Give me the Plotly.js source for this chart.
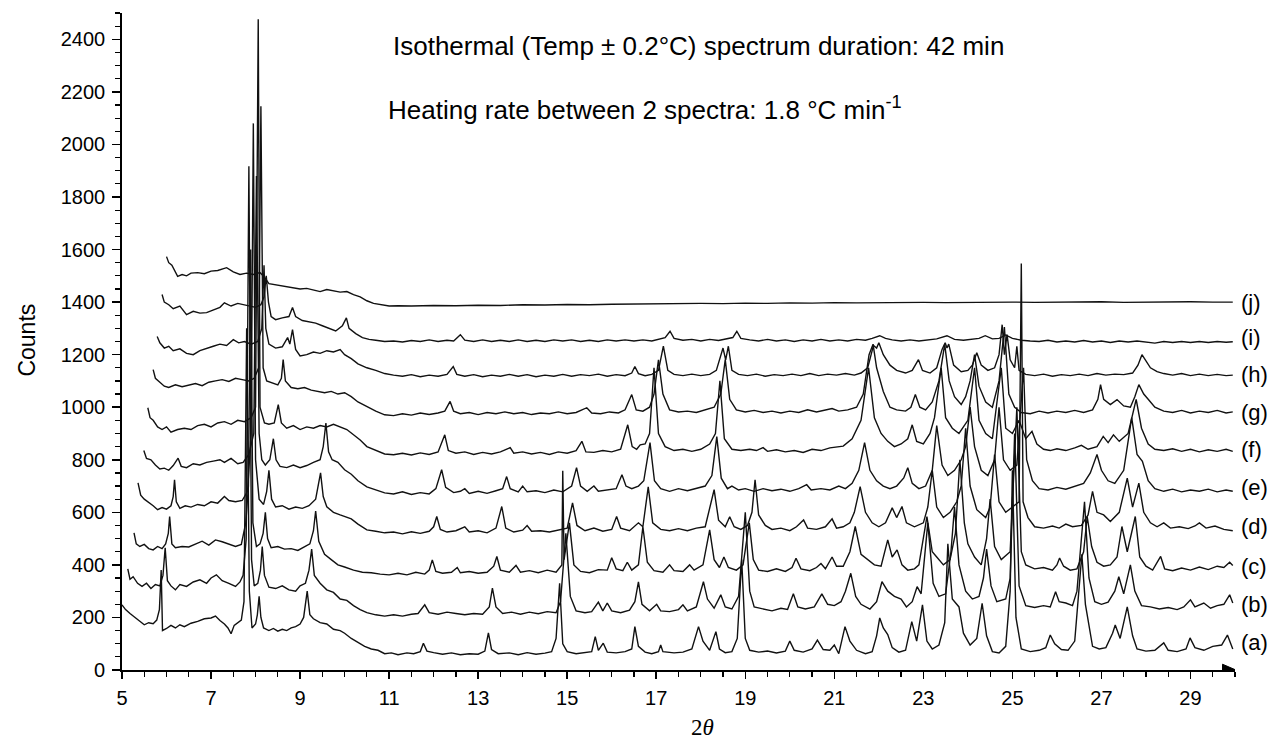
<!DOCTYPE html>
<html>
<head>
<meta charset="utf-8">
<script src="https://cdn.plot.ly/plotly-3.0.1.min.js"></script>
<style>html,body{margin:0;padding:0;background:#fff;}#chart{width:1275px;height:740px;}</style>
</head>
<body>
<div id="chart"></div>
<script>
// Trace labels (lowest to highest)
const labels = ["(a)","(b)","(c)","(d)","(e)","(f)","(g)","(h)","(i)","(j)"];
// Label heights (counts) at right end
const labelY = [103,248,392,545,693,838,979,1124,1264,1398];

// Spectra: [2theta, counts]
const specA = [[5.00,248],[5.08,230],[5.18,215],[5.3,200],[5.42,185],[5.5,172],[5.6,180],[5.7,176],[5.78,190],[5.84,230],[5.88,380],[5.91,150],[6.0,158],[6.1,170],[6.2,160],[6.3,172],[6.4,165],[6.55,178],[6.7,185],[6.85,195],[7.0,198],[7.1,205],[7.2,188],[7.3,175],[7.38,160],[7.45,138],[7.52,170],[7.6,180],[7.68,190],[7.74,260],[7.80,1300],[7.86,300],[7.92,160],[8.0,175],[8.04,210],[8.08,280],[8.12,200],[8.18,160],[8.3,150],[8.4,158],[8.5,148],[8.6,155],[8.7,150],[8.8,160],[8.9,165],[9.0,175],[9.08,200],[9.16,300],[9.22,210],[9.3,195],[9.45,180],[9.6,175],[9.75,155],[9.9,150],[10.0,140],[10.15,120],[10.3,105],[10.45,90],[10.6,80],[10.75,75],[10.9,62],[11.05,65],[11.2,58],[11.4,65],[11.55,62],[11.7,70],[11.77,102],[11.85,72],[12.0,66],[12.2,60],[12.4,65],[12.6,58],[12.8,62],[13.0,60],[13.15,72],[13.23,141],[13.3,78],[13.45,62],[13.7,65],[13.9,58],[14.1,66],[14.3,60],[14.5,64],[14.65,70],[14.75,120],[14.83,330],[14.9,100],[15.0,70],[15.2,62],[15.4,68],[15.55,70],[15.63,127],[15.7,75],[15.81,102],[15.9,68],[16.1,65],[16.3,70],[16.45,80],[16.52,165],[16.6,90],[16.75,68],[16.9,62],[17.05,70],[17.1,95],[17.15,70],[17.4,65],[17.6,68],[17.8,80],[17.95,165],[18.05,110],[18.2,75],[18.34,146],[18.42,80],[18.55,66],[18.7,70],[18.82,120],[18.92,420],[19.0,120],[19.1,75],[19.3,68],[19.5,72],[19.7,65],[19.9,72],[20.0,110],[20.1,75],[20.3,68],[20.5,80],[20.62,114],[20.75,78],[20.9,75],[21.0,95],[21.1,62],[21.24,165],[21.35,110],[21.5,75],[21.7,62],[21.85,70],[21.95,130],[22.02,198],[22.1,160],[22.2,135],[22.3,85],[22.45,68],[22.6,75],[22.74,184],[22.85,110],[22.98,248],[23.08,110],[23.2,80],[23.35,95],[23.48,180],[23.55,480],[23.65,270],[23.8,240],[23.9,140],[24.05,95],[24.2,120],[24.32,254],[24.42,130],[24.55,70],[24.7,65],[24.85,90],[24.95,300],[25.0,760],[25.08,200],[25.2,80],[25.4,70],[25.6,75],[25.75,85],[25.85,133],[25.95,100],[26.1,78],[26.25,75],[26.4,110],[26.5,300],[26.56,440],[26.64,250],[26.8,90],[26.95,80],[27.1,85],[27.25,140],[27.31,171],[27.42,120],[27.58,240],[27.7,130],[27.8,80],[28.0,72],[28.2,75],[28.4,103],[28.5,75],[28.7,70],[28.9,80],[28.99,122],[29.1,85],[29.3,75],[29.5,90],[29.7,95],[29.83,133],[29.95,80]];

const specB = [[5.13,385],[5.18,345],[5.25,355],[5.35,330],[5.45,318],[5.55,330],[5.65,310],[5.75,325],[5.85,320],[5.92,360],[5.97,465],[6.02,340],[6.1,320],[6.2,305],[6.3,325],[6.45,318],[6.6,335],[6.75,343],[6.9,330],[7.0,350],[7.12,362],[7.25,340],[7.4,330],[7.55,318],[7.65,335],[7.72,360],[7.79,500],[7.85,1917],[7.91,420],[7.97,320],[8.05,330],[8.11,380],[8.15,470],[8.2,360],[8.3,315],[8.45,310],[8.6,320],[8.75,305],[8.9,300],[9.0,320],[9.12,330],[9.2,380],[9.26,460],[9.32,360],[9.45,330],[9.6,305],[9.75,295],[9.9,270],[10.05,265],[10.2,245],[10.35,230],[10.5,218],[10.7,210],[10.9,205],[11.1,210],[11.3,205],[11.5,212],[11.65,215],[11.8,248],[11.9,218],[12.1,212],[12.3,220],[12.5,215],[12.7,210],[12.9,215],[13.1,212],[13.25,240],[13.32,312],[13.4,240],[13.55,215],[13.75,220],[13.95,212],[14.15,220],[14.35,214],[14.55,222],[14.75,218],[14.85,260],[14.97,520],[15.07,280],[15.2,225],[15.4,218],[15.55,222],[15.7,258],[15.8,225],[15.9,255],[16.0,225],[16.2,218],[16.4,228],[16.52,260],[16.6,335],[16.68,250],[16.85,225],[17.01,250],[17.1,225],[17.3,222],[17.5,230],[17.6,248],[17.7,225],[17.9,240],[18.06,336],[18.15,270],[18.3,235],[18.45,286],[18.55,240],[18.7,232],[18.85,280],[19.0,600],[19.1,300],[19.2,240],[19.4,232],[19.6,225],[19.8,235],[19.95,230],[20.08,290],[20.18,240],[20.35,232],[20.55,240],[20.72,290],[20.85,250],[21.0,245],[21.15,260],[21.25,300],[21.37,368],[21.48,280],[21.6,250],[21.8,232],[21.95,260],[22.07,336],[22.2,300],[22.35,280],[22.5,270],[22.62,240],[22.75,260],[22.86,317],[22.95,290],[23.1,560],[23.22,330],[23.35,280],[23.5,290],[23.62,450],[23.7,620],[23.8,400],[23.95,300],[24.1,270],[24.25,280],[24.35,350],[24.42,460],[24.52,320],[24.65,260],[24.85,270],[24.95,350],[25.05,900],[25.15,320],[25.3,245],[25.5,238],[25.7,245],[25.85,240],[25.97,298],[26.05,260],[26.2,255],[26.35,245],[26.45,300],[26.55,520],[26.62,640],[26.72,350],[26.85,260],[27.0,250],[27.15,258],[27.3,300],[27.39,355],[27.5,290],[27.65,400],[27.75,300],[27.9,245],[28.1,240],[28.3,232],[28.5,238],[28.7,230],[28.85,240],[29.0,267],[29.1,240],[29.3,255],[29.45,235],[29.6,245],[29.75,250],[29.88,286],[29.95,255]];

const specC = [[5.27,522],[5.32,480],[5.4,470],[5.5,478],[5.6,462],[5.7,457],[5.8,470],[5.9,462],[5.98,480],[6.04,520],[6.07,584],[6.12,480],[6.2,465],[6.35,470],[6.5,468],[6.65,480],[6.8,490],[6.95,475],[7.1,495],[7.25,488],[7.4,480],[7.55,470],[7.68,478],[7.78,560],[7.84,700],[7.89,1600],[7.94,560],[8.02,470],[8.1,480],[8.17,520],[8.22,600],[8.27,500],[8.35,465],[8.5,470],[8.65,460],[8.8,462],[8.95,455],[9.1,470],[9.22,480],[9.3,530],[9.35,605],[9.42,490],[9.55,440],[9.7,420],[9.85,400],[10.0,392],[10.2,380],[10.4,372],[10.6,370],[10.8,365],[11.0,362],[11.2,368],[11.4,362],[11.6,372],[11.8,365],[11.9,380],[11.97,419],[12.05,375],[12.2,368],[12.4,372],[12.53,390],[12.6,370],[12.8,375],[13.0,368],[13.2,372],[13.35,395],[13.42,432],[13.5,380],[13.7,372],[13.85,398],[13.95,372],[14.15,378],[14.35,370],[14.55,380],[14.75,372],[14.88,400],[14.9,758],[14.93,420],[15.05,560],[15.15,400],[15.3,375],[15.5,370],[15.7,382],[15.9,380],[16.0,427],[16.1,385],[16.25,378],[16.35,410],[16.45,380],[16.6,400],[16.7,545],[16.8,410],[16.95,378],[17.15,372],[17.3,400],[17.4,378],[17.6,375],[17.75,400],[17.85,380],[18.05,400],[18.2,533],[18.3,420],[18.42,390],[18.52,430],[18.62,390],[18.8,380],[18.95,400],[19.09,560],[19.18,420],[19.3,380],[19.5,375],[19.7,385],[19.9,375],[20.05,390],[20.14,425],[20.25,385],[20.45,378],[20.6,390],[20.7,405],[20.8,385],[20.95,430],[21.05,395],[21.2,395],[21.35,450],[21.47,546],[21.6,440],[21.75,420],[21.9,400],[22.05,395],[22.2,495],[22.3,430],[22.41,457],[22.52,400],[22.65,380],[22.8,385],[22.9,400],[23.08,584],[23.2,450],[23.3,430],[23.45,400],[23.6,420],[23.72,520],[23.82,800],[23.92,560],[24.0,480],[24.15,430],[24.3,400],[24.42,500],[24.5,650],[24.6,470],[24.75,420],[24.95,450],[25.1,1000],[25.2,450],[25.3,400],[25.5,385],[25.7,390],[25.9,380],[26.0,400],[26.06,426],[26.15,395],[26.3,380],[26.45,385],[26.6,450],[26.68,584],[26.78,470],[26.9,410],[27.05,395],[27.2,400],[27.35,430],[27.46,546],[27.58,450],[27.76,584],[27.86,430],[28.0,395],[28.15,380],[28.33,432],[28.42,385],[28.6,378],[28.8,388],[29.0,380],[29.2,392],[29.4,382],[29.6,395],[29.75,390],[29.88,410],[29.95,398]];

const specD = [[5.36,712],[5.42,665],[5.5,650],[5.6,638],[5.7,625],[5.8,610],[5.9,618],[6.0,612],[6.1,625],[6.15,660],[6.18,724],[6.22,640],[6.3,615],[6.42,625],[6.55,620],[6.7,630],[6.85,625],[7.0,640],[7.15,635],[7.3,660],[7.4,645],[7.55,640],[7.7,645],[7.82,680],[7.9,900],[7.95,2080],[8.0,800],[8.08,650],[8.18,630],[8.25,680],[8.3,760],[8.36,650],[8.45,620],[8.6,625],[8.75,612],[8.9,620],[9.05,615],[9.2,625],[9.35,650],[9.46,750],[9.52,660],[9.6,621],[9.75,600],[9.9,590],[10.0,584],[10.15,575],[10.3,555],[10.5,533],[10.7,528],[10.9,522],[11.1,525],[11.3,518],[11.5,526],[11.7,520],[11.9,528],[12.0,545],[12.07,584],[12.15,535],[12.3,525],[12.5,530],[12.7,545],[12.8,525],[13.0,530],[13.2,522],[13.4,540],[13.53,622],[13.62,540],[13.8,525],[14.0,532],[14.1,550],[14.2,528],[14.4,530],[14.6,525],[14.8,532],[15.0,540],[15.12,636],[15.22,550],[15.4,530],[15.6,540],[15.8,528],[16.0,535],[16.11,584],[16.2,540],[16.4,530],[16.6,560],[16.7,545],[16.82,697],[16.92,560],[17.1,535],[17.3,530],[17.5,538],[17.7,530],[17.9,540],[18.1,545],[18.3,686],[18.4,570],[18.55,545],[18.65,583],[18.75,545],[18.9,535],[19.05,550],[19.15,600],[19.22,724],[19.3,590],[19.45,550],[19.6,535],[19.8,540],[20.0,530],[20.15,545],[20.31,571],[20.4,540],[20.6,535],[20.8,545],[20.95,575],[21.05,540],[21.2,545],[21.35,560],[21.45,600],[21.58,698],[21.7,600],[21.85,560],[22.0,545],[22.15,560],[22.3,617],[22.4,580],[22.52,622],[22.62,560],[22.8,545],[23.0,560],[23.1,620],[23.2,760],[23.3,620],[23.45,580],[23.6,600],[23.75,640],[23.85,700],[23.95,920],[24.05,700],[24.2,610],[24.4,580],[24.5,620],[24.6,820],[24.7,640],[24.85,600],[25.0,620],[25.15,640],[25.2,1547],[25.24,640],[25.35,580],[25.5,545],[25.7,540],[25.9,548],[26.05,540],[26.2,555],[26.35,545],[26.55,550],[26.7,590],[26.8,680],[26.9,600],[27.05,590],[27.2,565],[27.4,600],[27.58,730],[27.7,620],[27.84,711],[27.95,600],[28.1,560],[28.25,545],[28.4,560],[28.55,540],[28.75,545],[28.95,538],[29.1,548],[29.2,560],[29.35,540],[29.55,548],[29.75,535],[29.95,530]];

const specE = [[5.49,835],[5.55,805],[5.65,800],[5.75,780],[5.85,765],[5.95,768],[6.05,760],[6.15,778],[6.26,806],[6.33,775],[6.45,770],[6.6,785],[6.75,780],[6.9,790],[7.05,795],[7.2,800],[7.3,790],[7.45,805],[7.6,785],[7.72,790],[7.85,820],[7.96,900],[8.02,1880],[8.08,900],[8.14,800],[8.22,780],[8.32,800],[8.4,880],[8.46,800],[8.55,775],[8.7,770],[8.85,780],[9.0,770],[9.15,778],[9.3,790],[9.45,800],[9.52,850],[9.58,940],[9.64,830],[9.72,800],[9.85,790],[10.0,762],[10.15,745],[10.3,720],[10.5,697],[10.7,685],[10.9,674],[11.1,670],[11.3,678],[11.5,668],[11.7,675],[11.9,670],[12.05,690],[12.18,762],[12.27,695],[12.45,675],[12.6,680],[12.7,690],[12.8,672],[13.0,680],[13.2,672],[13.4,682],[13.55,690],[13.64,736],[13.72,690],[13.9,678],[14.0,700],[14.1,678],[14.3,682],[14.5,675],[14.7,685],[14.9,678],[15.1,700],[15.21,770],[15.3,700],[15.45,680],[15.6,700],[15.7,680],[15.9,685],[16.1,690],[16.23,743],[16.32,700],[16.45,690],[16.6,700],[16.72,720],[16.86,865],[16.96,720],[17.1,690],[17.3,680],[17.5,690],[17.7,682],[17.9,690],[18.1,700],[18.25,740],[18.36,888],[18.46,730],[18.6,690],[18.7,700],[18.85,685],[19.0,690],[19.2,680],[19.4,690],[19.6,682],[19.8,688],[20.0,680],[20.2,690],[20.38,705],[20.48,685],[20.7,690],[20.9,685],[21.1,700],[21.25,690],[21.4,710],[21.55,760],[21.68,865],[21.8,760],[21.95,720],[22.1,700],[22.25,690],[22.4,700],[22.56,731],[22.65,770],[22.75,710],[22.9,690],[23.05,700],[23.2,760],[23.3,930],[23.42,780],[23.55,740],[23.7,760],[23.85,800],[23.95,850],[24.05,1000],[24.15,850],[24.3,760],[24.45,740],[24.6,800],[24.7,1000],[24.8,800],[24.95,760],[25.1,780],[25.25,1150],[25.32,800],[25.45,720],[25.6,690],[25.8,685],[26.0,695],[26.2,688],[26.4,700],[26.6,710],[26.75,750],[26.9,820],[27.0,760],[27.15,720],[27.3,710],[27.5,760],[27.68,960],[27.8,820],[27.92,794],[28.05,720],[28.2,690],[28.4,680],[28.6,688],[28.8,678],[29.0,685],[29.2,680],[29.4,688],[29.6,678],[29.8,685],[29.95,680]];

const specF = [[5.58,998],[5.63,960],[5.7,950],[5.8,925],[5.9,915],[6.0,925],[6.1,905],[6.25,915],[6.4,920],[6.55,915],[6.7,930],[6.85,935],[7.0,925],[7.15,940],[7.3,945],[7.45,935],[7.6,950],[7.75,945],[7.9,960],[8.0,1000],[8.06,2476],[8.1,1000],[8.2,940],[8.3,935],[8.42,940],[8.51,1010],[8.58,940],[8.7,920],[8.85,930],[9.0,915],[9.15,925],[9.3,920],[9.45,930],[9.6,925],[9.75,935],[9.9,926],[10.05,915],[10.2,895],[10.35,875],[10.5,850],[10.7,835],[10.9,822],[11.1,819],[11.3,825],[11.5,818],[11.7,826],[11.9,820],[12.1,830],[12.25,895],[12.33,835],[12.5,825],[12.7,830],[12.9,820],[13.1,828],[13.3,822],[13.5,830],[13.72,846],[13.8,825],[14.0,830],[14.2,822],[14.4,828],[14.6,820],[14.8,830],[15.0,825],[15.2,835],[15.33,870],[15.42,830],[15.6,828],[15.8,835],[16.0,830],[16.2,840],[16.36,933],[16.46,850],[16.56,840],[16.64,857],[16.75,860],[16.85,900],[16.95,1150],[17.05,900],[17.2,850],[17.4,835],[17.6,840],[17.8,832],[18.0,840],[18.2,860],[18.33,900],[18.43,1100],[18.53,880],[18.7,840],[18.9,835],[19.1,840],[19.25,835],[19.4,846],[19.5,832],[19.7,838],[19.9,830],[20.1,835],[20.3,828],[20.5,840],[20.7,835],[20.9,845],[21.1,850],[21.2,852],[21.4,880],[21.6,950],[21.77,1150],[21.9,960],[22.05,900],[22.2,870],[22.35,850],[22.5,860],[22.65,880],[22.75,933],[22.85,870],[23.0,860],[23.15,900],[23.25,960],[23.4,1150],[23.5,960],[23.65,920],[23.8,900],[24.0,950],[24.15,1150],[24.25,950],[24.4,900],[24.55,880],[24.75,1150],[24.85,920],[25.0,900],[25.15,950],[25.3,880],[25.44,908],[25.55,860],[25.7,840],[25.85,835],[26.0,842],[26.2,835],[26.4,845],[26.55,855],[26.7,840],[26.9,850],[27.04,889],[27.15,865],[27.27,895],[27.4,870],[27.6,900],[27.78,1030],[27.9,920],[28.05,860],[28.2,840],[28.4,835],[28.6,842],[28.8,832],[29.0,840],[29.2,830],[29.4,838],[29.6,832],[29.8,840],[29.95,832]];

const specG = [[5.7,1143],[5.75,1110],[5.85,1095],[5.95,1080],[6.05,1075],[6.2,1085],[6.35,1078],[6.5,1085],[6.65,1090],[6.8,1082],[6.95,1095],[7.1,1100],[7.25,1105],[7.4,1098],[7.55,1110],[7.7,1105],[7.85,1100],[7.97,1110],[8.07,1150],[8.12,2145],[8.17,1150],[8.25,1100],[8.35,1095],[8.5,1085],[8.58,1110],[8.62,1181],[8.67,1100],[8.8,1075],[8.95,1070],[9.1,1075],[9.25,1065],[9.4,1060],[9.55,1055],[9.7,1060],[9.85,1050],[10.0,1055],[10.15,1040],[10.3,1020],[10.5,1002],[10.7,985],[10.9,971],[11.1,968],[11.3,975],[11.5,970],[11.7,978],[11.9,972],[12.1,978],[12.25,985],[12.37,1022],[12.45,985],[12.6,975],[12.8,980],[13.0,972],[13.2,980],[13.4,975],[13.6,982],[13.8,975],[14.0,980],[14.2,972],[14.4,978],[14.6,975],[14.8,982],[15.0,975],[15.2,980],[15.44,998],[15.55,978],[15.75,975],[15.95,982],[16.15,978],[16.3,990],[16.45,1048],[16.55,990],[16.7,985],[16.85,1000],[16.95,1050],[17.05,1180],[17.15,1050],[17.3,990],[17.5,982],[17.7,985],[17.9,980],[18.1,990],[18.3,1000],[18.45,1050],[18.55,1181],[18.65,1030],[18.8,990],[19.0,982],[19.2,988],[19.4,980],[19.6,985],[19.8,978],[20.0,985],[20.2,980],[20.4,990],[20.6,982],[20.8,990],[20.95,995],[21.1,985],[21.3,990],[21.5,1000],[21.65,1050],[21.78,1200],[21.87,1240],[21.95,1150],[22.1,1060],[22.25,1000],[22.4,990],[22.6,985],[22.72,1000],[22.82,1048],[22.92,1000],[23.05,990],[23.2,1020],[23.35,1100],[23.48,1240],[23.58,1100],[23.7,1040],[23.85,1010],[23.95,1040],[24.05,1100],[24.15,1200],[24.25,1080],[24.4,1020],[24.55,1000],[24.7,1100],[24.82,1305],[24.92,1050],[25.05,1000],[25.2,980],[25.4,975],[25.6,985],[25.8,978],[26.0,985],[26.2,980],[26.4,988],[26.6,980],[26.8,990],[26.92,1030],[26.98,1086],[27.05,1030],[27.2,1010],[27.35,1029],[27.5,1005],[27.65,1000],[27.75,1040],[27.84,1086],[27.95,1050],[28.05,1030],[28.2,1000],[28.4,985],[28.6,980],[28.8,988],[29.0,978],[29.2,985],[29.4,980],[29.6,988],[29.8,978],[29.95,982]];

const specH = [[5.79,1269],[5.85,1245],[5.95,1225],[6.05,1232],[6.15,1215],[6.3,1222],[6.45,1205],[6.6,1200],[6.75,1215],[6.9,1225],[7.05,1232],[7.2,1240],[7.35,1235],[7.5,1257],[7.62,1245],[7.75,1250],[7.9,1240],[8.05,1250],[8.14,1300],[8.19,1540],[8.23,1300],[8.3,1240],[8.45,1225],[8.6,1230],[8.68,1250],[8.72,1265],[8.77,1240],[8.83,1295],[8.9,1220],[9.0,1195],[9.15,1200],[9.3,1210],[9.45,1205],[9.6,1215],[9.75,1210],[9.9,1219],[10.0,1200],[10.15,1185],[10.3,1165],[10.5,1150],[10.7,1140],[10.9,1128],[11.1,1122],[11.3,1118],[11.5,1124],[11.7,1116],[11.9,1122],[12.1,1118],[12.3,1125],[12.44,1155],[12.52,1125],[12.7,1118],[12.9,1124],[13.1,1116],[13.3,1122],[13.5,1118],[13.7,1125],[13.9,1118],[14.1,1124],[14.3,1116],[14.5,1122],[14.7,1118],[14.9,1125],[15.1,1118],[15.3,1124],[15.5,1120],[15.7,1126],[15.9,1118],[16.1,1124],[16.3,1120],[16.45,1130],[16.52,1155],[16.6,1128],[16.75,1120],[16.9,1125],[17.05,1140],[17.16,1232],[17.26,1140],[17.4,1125],[17.6,1120],[17.8,1126],[18.0,1120],[18.2,1125],[18.35,1140],[18.5,1225],[18.56,1180],[18.62,1232],[18.7,1140],[18.85,1125],[19.05,1120],[19.25,1126],[19.45,1118],[19.65,1124],[19.85,1120],[20.05,1126],[20.25,1120],[20.45,1128],[20.65,1120],[20.85,1126],[21.05,1122],[21.25,1128],[21.45,1122],[21.6,1130],[21.75,1150],[21.88,1235],[21.95,1225],[22.0,1245],[22.1,1200],[22.25,1160],[22.4,1140],[22.6,1130],[22.75,1140],[22.89,1181],[22.98,1140],[23.15,1130],[23.3,1150],[23.42,1220],[23.49,1245],[23.53,1225],[23.57,1240],[23.68,1160],[23.85,1135],[24.0,1140],[24.1,1160],[24.2,1207],[24.3,1160],[24.45,1140],[24.6,1150],[24.7,1200],[24.77,1314],[24.82,1200],[24.88,1276],[24.95,1180],[25.05,1150],[25.1,1232],[25.15,1140],[25.3,1125],[25.5,1120],[25.7,1126],[25.9,1118],[26.1,1124],[26.3,1120],[26.5,1126],[26.7,1120],[26.9,1128],[27.1,1122],[27.3,1126],[27.5,1124],[27.7,1130],[27.82,1160],[27.91,1200],[28.0,1175],[28.1,1150],[28.25,1135],[28.4,1128],[28.6,1122],[28.8,1128],[29.0,1120],[29.2,1126],[29.4,1120],[29.6,1125],[29.8,1120],[29.95,1122]];

const specI = [[5.9,1429],[5.95,1400],[6.05,1390],[6.15,1375],[6.3,1385],[6.45,1352],[6.6,1365],[6.75,1358],[6.9,1360],[7.05,1370],[7.2,1380],[7.3,1397],[7.45,1385],[7.6,1395],[7.75,1390],[7.9,1385],[8.0,1380],[8.12,1390],[8.19,1420],[8.24,1500],[8.29,1400],[8.35,1345],[8.45,1333],[8.6,1340],[8.75,1345],[8.83,1379],[8.9,1345],[9.05,1330],[9.2,1326],[9.35,1320],[9.5,1310],[9.65,1300],[9.8,1290],[9.95,1310],[10.04,1340],[10.1,1300],[10.25,1280],[10.4,1265],[10.55,1258],[10.7,1255],[10.9,1250],[11.1,1252],[11.3,1248],[11.5,1254],[11.7,1250],[11.9,1256],[12.1,1250],[12.3,1255],[12.45,1252],[12.6,1276],[12.7,1255],[12.9,1250],[13.1,1256],[13.3,1250],[13.5,1255],[13.7,1250],[13.9,1256],[14.1,1250],[14.3,1255],[14.5,1250],[14.7,1256],[14.9,1252],[15.1,1256],[15.3,1250],[15.5,1255],[15.7,1250],[15.9,1256],[16.1,1252],[16.3,1256],[16.5,1252],[16.7,1256],[16.9,1252],[17.1,1260],[17.2,1265],[17.31,1289],[17.4,1262],[17.6,1255],[17.8,1258],[18.0,1252],[18.2,1258],[18.4,1254],[18.6,1260],[18.72,1265],[18.81,1289],[18.9,1262],[19.1,1256],[19.3,1252],[19.5,1258],[19.7,1252],[19.9,1256],[20.1,1250],[20.3,1256],[20.5,1252],[20.7,1258],[20.9,1252],[21.1,1256],[21.3,1252],[21.5,1258],[21.7,1255],[21.85,1262],[22.02,1272],[22.15,1262],[22.3,1256],[22.5,1252],[22.7,1256],[22.9,1252],[23.1,1256],[23.3,1260],[23.53,1272],[23.7,1258],[23.9,1255],[24.1,1260],[24.25,1262],[24.39,1272],[24.55,1260],[24.7,1262],[24.85,1275],[25.0,1262],[25.2,1255],[25.4,1252],[25.6,1250],[25.8,1255],[26.0,1248],[26.2,1252],[26.4,1248],[26.6,1254],[26.8,1248],[27.0,1252],[27.2,1246],[27.4,1252],[27.6,1248],[27.8,1252],[28.0,1248],[28.2,1244],[28.4,1250],[28.6,1246],[28.8,1250],[29.0,1246],[29.2,1250],[29.4,1246],[29.6,1250],[29.8,1247],[29.95,1249]];

const specJ = [[6.0,1573],[6.05,1550],[6.12,1540],[6.2,1515],[6.25,1498],[6.35,1505],[6.45,1500],[6.55,1510],[6.7,1512],[6.85,1508],[7.0,1518],[7.15,1520],[7.35,1531],[7.5,1515],[7.65,1505],[7.8,1510],[7.95,1505],[8.1,1512],[8.2,1495],[8.3,1470],[8.4,1467],[8.55,1462],[8.7,1460],[8.85,1455],[9.0,1450],[9.15,1452],[9.3,1445],[9.45,1440],[9.6,1448],[9.75,1442],[9.9,1438],[10.05,1440],[10.2,1428],[10.35,1420],[10.5,1405],[10.65,1395],[10.8,1390],[11.0,1385],[11.2,1386],[11.5,1385],[12.0,1387],[12.5,1386],[13.0,1388],[13.5,1387],[14.0,1390],[14.5,1389],[15.0,1391],[15.5,1390],[16.0,1392],[16.5,1393],[17.0,1394],[17.5,1393],[18.0,1395],[18.5,1394],[19.0,1396],[19.5,1395],[20.0,1397],[20.5,1396],[21.0,1398],[21.5,1397],[22.0,1398],[22.5,1397],[23.0,1399],[23.5,1398],[24.0,1399],[24.5,1398],[25.0,1400],[25.5,1399],[26.0,1400],[26.5,1399],[27.0,1401],[27.5,1399],[28.0,1400],[28.5,1399],[29.0,1401],[29.5,1400],[29.95,1400]];

const spectra = [specA, specB, specC, specD, specE, specF, specG, specH, specI, specJ];

const FONT = "Liberation Sans, Arial, Helvetica, sans-serif";

const traces = spectra.map((s, i) => ({
  type: "scatter",
  mode: "lines",
  x: s.map(p => p[0]),
  y: s.map(p => p[1]),
  name: labels[i],
  line: {color: "#111", width: 1.4},
  hoverinfo: "skip",
  showlegend: false
}));

const annotations = labels.map((t, i) => ({
  xref: "paper", yref: "y", x: 1.004, y: labelY[i],
  xanchor: "left", yanchor: "middle", showarrow: false,
  text: t, font: {family: FONT, size: 22, color: "#000"}
}));

annotations.push(
  {xref: "paper", yref: "paper", x: 0.2417, y: 0.9498, xanchor: "left", yanchor: "middle", showarrow: false,
   text: "Isothermal (Temp \u00B1 0.2\u00B0C) spectrum duration: 42 min", font: {family: FONT, size: 26, color: "#000"}},
  {xref: "paper", yref: "paper", x: 0.2372, y: 0.8554, xanchor: "left", yanchor: "middle", showarrow: false,
   text: "Heating rate between 2 spectra: 1.8 \u00B0C min<sup>-1</sup>", font: {family: FONT, size: 26, color: "#000"}},
  {xref: "paper", yref: "paper", x: -0.085, y: 0.502, xanchor: "center", yanchor: "middle", showarrow: false,
   textangle: -90, text: "Counts", font: {family: FONT, size: 23, color: "#000"}},
  {xref: "paper", yref: "paper", x: 0.522, y: -0.088, xanchor: "center", yanchor: "middle", showarrow: false,
   text: "2<i>\u03B8</i>", font: {family: "Liberation Serif, Times New Roman, serif", size: 23, color: "#000"}}
);

const layout = {
  width: 1275, height: 740,
  margin: {l: 122, r: 40, t: 13, b: 70},
  paper_bgcolor: "#fff", plot_bgcolor: "#fff",
  font: {family: FONT, color: "#000"},
  xaxis: {
    range: [5, 30], tick0: 5, dtick: 2, showgrid: false, zeroline: false,
    showline: true, linecolor: "#000", linewidth: 1.8,
    ticks: "outside", ticklen: 7, tickwidth: 1.5, tickcolor: "#000",
    ticklabelstandoff: 2,
    tickfont: {family: FONT, size: 20, color: "#000"},
    minor: {dtick: 0.5, ticks: "outside", ticklen: 5, tickwidth: 1.2, tickcolor: "#000", showgrid: false}
  },
  yaxis: {
    range: [0, 2500], tick0: 0, dtick: 200, showgrid: false, zeroline: false,
    showline: true, linecolor: "#000", linewidth: 1.8,
    ticks: "outside", ticklen: 8, tickwidth: 1.5, tickcolor: "#000",
    ticklabelstandoff: 3,
    tickfont: {family: FONT, size: 20, color: "#000"},
    minor: {dtick: 50, ticks: "outside", ticklen: 5, tickwidth: 1.2, tickcolor: "#000", showgrid: false}
  },
  shapes: [
    {type: "path", xref: "x", yref: "y", path: "M 29.72 -22 L 30.02 0 L 29.72 22 Z",
     fillcolor: "#000", line: {color: "#000", width: 1}, layer: "above"}
  ],
  annotations: annotations
};

Plotly.newPlot("chart", traces, layout, {displayModeBar: false, staticPlot: true});
</script>
</body>
</html>
